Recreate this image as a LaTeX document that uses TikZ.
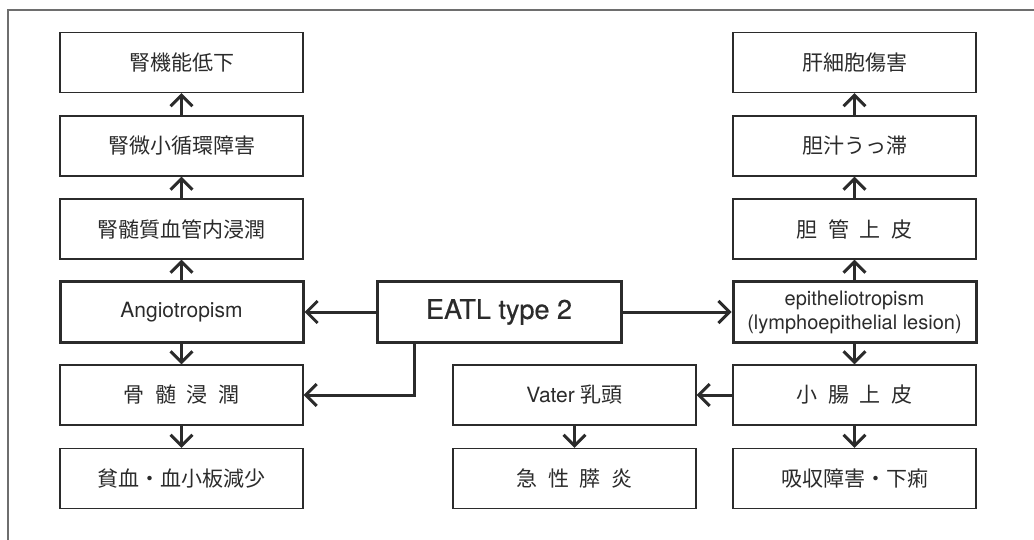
\documentclass[tikz,border=0pt]{standalone}
\usepackage{fontspec}
\setmainfont{TeX Gyre Heros}
\newfontfamily\jp{Noto Sans CJK JP}
\usetikzlibrary{arrows.meta}
\definecolor{ink}{HTML}{2B2B2B}
\definecolor{framec}{HTML}{6E6E6E}
\tikzset{
  thinbox/.style={draw=ink, line width=1.2pt, minimum width=243pt, minimum height=60pt, inner sep=0pt, text=ink, font=\jp\fontsize{21}{24}\selectfont},
  thickbox/.style={thinbox, line width=3pt},
  latin/.style={font=\fontsize{21}{24}\selectfont},
  arr/.style={draw=ink, line width=3pt, -{Straight Barb[length=11pt,width=22pt,line width=3pt]}},
}
\newcommand{\gapsp}{\hspace{0.5em}}
\begin{document}
\begin{tikzpicture}[x=1pt,y=-1pt]
\useasboundingbox (0,0) rectangle (1034,540);
\draw[framec, line width=1.5pt] (8,540) -- (8,10) -- (1034,10);
% left column
\node[thinbox] (kfun) at (181.5,62.5) {腎機能低下};
\node[thinbox] (kmic) at (181.5,146) {腎微小循環障害};
\node[thinbox] (kmed) at (181.5,229) {腎髄質血管内浸潤};
\node[thickbox, latin] (angio) at (181.5,312) {Angiotropism};
\node[thinbox] (bone) at (181.5,395) {骨\gapsp 髄\gapsp 浸\gapsp 潤};
\node[thinbox] (anem) at (181.5,478.5) {貧血・血小板減少};
% center
\node[thickbox, minimum width=244pt, font=\fontsize{27}{30}\selectfont\addfontfeature{FakeBold=0.5}] (eatl) at (499,312) {EATL type 2};
\node[thinbox, latin] (vater) at (574.5,395) {Vater {\jp 乳頭}};
\node[thinbox] (panc) at (574.5,478.5) {急\gapsp 性\gapsp 膵\gapsp 炎};
% right column
\node[thinbox] (liver) at (854.5,62.5) {肝細胞傷害};
\node[thinbox] (bile) at (854.5,146) {胆汁うっ滞};
\node[thinbox] (duct) at (854.5,229) {胆\gapsp 管\gapsp 上\gapsp 皮};
\node[thickbox, align=center, font=\fontsize{20}{24}\selectfont] (epi) at (854.5,312) {epitheliotropism\\(lymphoepithelial lesion)};
\node[thinbox] (small) at (854.5,395) {小\gapsp 腸\gapsp 上\gapsp 皮};
\node[thinbox] (malab) at (854.5,478.5) {吸収障害・下痢};
% connectors
\draw[arr] (angio) -- (kmed);
\draw[arr] (kmed) -- (kmic);
\draw[arr] (kmic) -- (kfun);
\draw[arr] (angio) -- (bone);
\draw[arr] (bone) -- (anem);
\draw[arr] (eatl) -- (angio);
\draw[arr] (eatl) -- (epi);
\draw[arr] ([xshift=39pt]eatl.south west) |- (bone.east);
\draw[arr] (epi) -- (duct);
\draw[arr] (duct) -- (bile);
\draw[arr] (bile) -- (liver);
\draw[arr] (epi) -- (small);
\draw[arr] (small) -- (malab);
\draw[arr] (small) -- (vater);
\draw[arr] (vater) -- (panc);
\end{tikzpicture}
\end{document}
